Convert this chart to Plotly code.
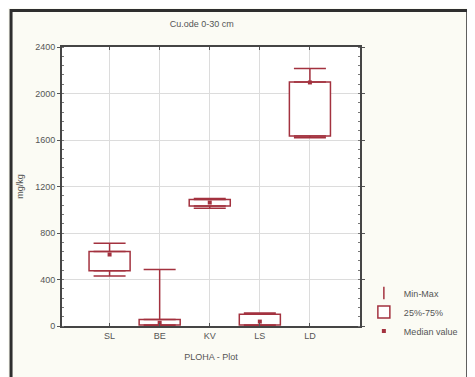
import plotly.graph_objects as go

categories = ["SL", "BE", "KV", "LS", "LD"]
min_vals = [430, 0, 1012, 0, 1620]
q1_vals = [475, 8, 1032, 8, 1635]
median_vals = [615, 28, 1062, 38, 2095]
q3_vals = [640, 55, 1089, 102, 2100]
max_vals = [712, 487, 1097, 112, 2215]

y_ticks = [0, 400, 800, 1200, 1600, 2000, 2400]

RED = "#a3323f"
FONT = "Liberation Sans"
TXT = "#555555"
FS = 9

x_idx = list(range(len(categories)))

fig = go.Figure()

# upper whiskers (q3 -> max)
fig.add_trace(go.Scatter(
    x=x_idx, y=q3_vals, mode="markers",
    marker=dict(size=1, opacity=0, color=RED),
    error_y=dict(type="data", symmetric=False,
                 array=[m - q for m, q in zip(max_vals, q3_vals)],
                 arrayminus=[0] * len(categories),
                 color=RED, thickness=1.5, width=16),
    showlegend=False, hoverinfo="skip"))
# lower whiskers (min -> q1)
fig.add_trace(go.Scatter(
    x=x_idx, y=q1_vals, mode="markers",
    marker=dict(size=1, opacity=0, color=RED),
    error_y=dict(type="data", symmetric=False,
                 array=[0] * len(categories),
                 arrayminus=[q - m for q, m in zip(q1_vals, min_vals)],
                 color=RED, thickness=1.5, width=16),
    showlegend=False, hoverinfo="skip"))

# legend entry for Min-Max
fig.add_trace(go.Scatter(
    x=[None], y=[None], mode="markers", name="Min-Max",
    marker=dict(symbol="line-ns", size=9, color=RED,
                line=dict(color=RED, width=1.5))))

# boxes 25%-75%
fig.add_trace(go.Bar(
    x=x_idx, base=q1_vals, y=[b - a for a, b in zip(q1_vals, q3_vals)],
    width=0.82, name="25%-75%",
    marker=dict(color="rgba(255,255,255,1)", line=dict(color=RED, width=1.5)),
    hoverinfo="skip"))

# medians
fig.add_trace(go.Scatter(
    x=x_idx, y=median_vals, mode="markers", name="Median value",
    marker=dict(symbol="square", size=4, color=RED)))

fig.update_layout(
    width=467, height=369,
    margin=dict(l=54, r=106, t=39, b=51),
    paper_bgcolor="#fbfbf4",
    plot_bgcolor="white",
    font=dict(family=FONT, size=FS, color=TXT),
    title=dict(text="Cu.ode 0-30 cm", x=0.415, xanchor="center",
               y=1 - 16 / 369, yanchor="middle",
               font=dict(family=FONT, size=FS, color=TXT)),
    barmode="overlay",
    legend=dict(x=1.013, xanchor="left", y=0.17, yanchor="top",
                bgcolor="rgba(0,0,0,0)", font=dict(size=FS, color=TXT),
                itemwidth=30, tracegroupgap=0),
    shapes=[dict(type="rect", xref="paper", yref="paper",
                 x0=(9.5 - 62) / 307, x1=(480 - 62) / 307,
                 y0=(326 - 380) / 279, y1=(326 - 10.5) / 279,
                 line=dict(color="#2e2e2e", width=3),
                 fillcolor="rgba(0,0,0,0)", layer="above")],
)

fig.update_xaxes(
    range=[-0.95, 5.0], tickmode="array", tickvals=x_idx, ticktext=categories,
    showgrid=True, gridcolor="#dcdcdc", gridwidth=1,
    ticks="inside", ticklen=3, tickcolor="#555", mirror="allticks",
    showline=True, linecolor="#454545", linewidth=2,
    zeroline=False,
    title=dict(text="PLOHA - Plot", standoff=14, font=dict(size=FS, color=TXT)),
    tickfont=dict(size=FS, color=TXT))

fig.update_yaxes(
    range=[0, 2400], tickmode="array", tickvals=y_ticks,
    showgrid=True, gridcolor="#dcdcdc", gridwidth=1,
    ticks="outside", ticklen=3, tickcolor="#555", mirror="allticks",
    showline=True, linecolor="#454545", linewidth=2,
    zeroline=False,
    minor=dict(dtick=80, ticks="inside", ticklen=2, tickcolor="#777", showgrid=False),
    title=dict(text="mg/kg", standoff=10, font=dict(size=FS, color=TXT)),
    tickfont=dict(size=FS, color=TXT))

fig.write_html("out.html")
